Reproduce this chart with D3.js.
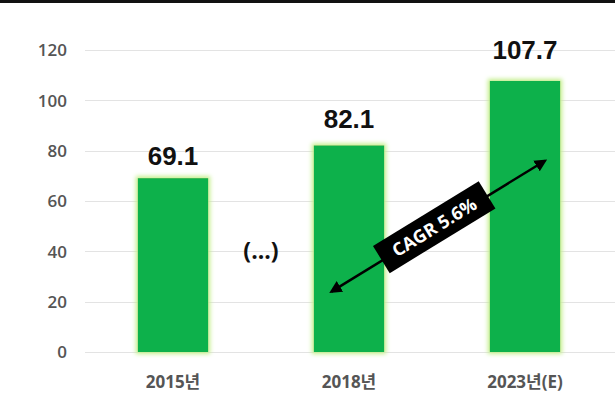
<!DOCTYPE html>
<html>
<head>
<meta charset="utf-8">
<script src="https://cdn.jsdelivr.net/npm/d3@7"></script>
<style>
  body { margin: 0; background: #fff; }
  text { font-family: "Open Sans", "Noto Sans CJK KR", sans-serif; }
</style>
</head>
<body>
<div id="chart"></div>
<script>
const width = 615, height = 410;

// data
const categories = ["2015년", "2018년", "2023년(E)"];
const values = [69.1, 82.1, 107.7];
const yTicks = [0, 20, 40, 60, 80, 100, 120];
const cagrLabel = "CAGR 5.6%";

const x = d3.scaleBand()
    .domain(categories)
    .range([85, 613])
    .paddingInner(0.6)
    .paddingOuter(0.3);

const y = d3.scaleLinear()
    .domain([0, 120])
    .range([352, 50]);

const svg = d3.select("#chart").append("svg")
    .attr("width", width)
    .attr("height", height);

const defs = svg.append("defs");
const glow = defs.append("filter").attr("id", "glow")
    .attr("x", "-20%").attr("y", "-20%").attr("width", "140%").attr("height", "140%");
glow.append("feMorphology").attr("in", "SourceAlpha").attr("operator", "dilate").attr("radius", 1.5).attr("result", "d");
glow.append("feGaussianBlur").attr("in", "d").attr("stdDeviation", 2).attr("result", "b");
glow.append("feFlood").attr("flood-color", "#c4ef8c");
glow.append("feComposite").attr("in2", "b").attr("operator", "in").attr("result", "g");
const merge = glow.append("feMerge");
merge.append("feMergeNode").attr("in", "g");
merge.append("feMergeNode").attr("in", "SourceGraphic");

defs.append("marker").attr("id", "arrow")
    .attr("viewBox", "0 0 10 10").attr("refX", 8).attr("refY", 5)
    .attr("markerWidth", 5).attr("markerHeight", 5)
    .attr("orient", "auto-start-reverse")
    .append("path").attr("d", "M0,0 L10,5 L0,10 Z").attr("fill", "#000");

// top rule
svg.append("rect").attr("x", 0).attr("y", 0).attr("width", width).attr("height", 3).attr("fill", "#111");

// grid
const grid = svg.append("g");
grid.selectAll("line").data(yTicks).enter().append("line")
    .attr("x1", 85).attr("x2", width)
    .attr("y1", d => Math.round(y(d)) + 0.5).attr("y2", d => Math.round(y(d)) + 0.5)
    .attr("stroke", "#e3e3e3").attr("stroke-width", 1);

grid.selectAll("text").data(yTicks).enter().append("text")
    .attr("x", 67).attr("y", d => y(d))
    .attr("dy", "0.38em")
    .attr("text-anchor", "end")
    .attr("font-size", 17).attr("font-weight", 600)
    .attr("fill", "#555")
    .text(d => d);

// bars
svg.append("g").selectAll("rect").data(values).enter().append("rect")
    .attr("x", (d, i) => x(categories[i]))
    .attr("y", d => y(d))
    .attr("width", x.bandwidth())
    .attr("height", d => y(0) - y(d))
    .attr("fill", "#0db14b")
    .attr("filter", "url(#glow)");

// value labels
const gap = [13, 17, 22];
svg.append("g").selectAll("text").data(values).enter().append("text")
    .attr("x", (d, i) => x(categories[i]) + x.bandwidth() / 2)
    .attr("y", (d, i) => y(d) - gap[i])
    .attr("text-anchor", "middle")
    .style("font-family", "'Liberation Sans', Arial, sans-serif")
    .attr("font-size", 26)
    .attr("font-weight", 700)
    .attr("fill", "#111")
    .text(d => d.toFixed(1));

// category labels
svg.append("g").selectAll("text").data(categories).enter().append("text")
    .attr("x", d => x(d) + x.bandwidth() / 2)
    .attr("y", 388)
    .attr("text-anchor", "middle")
    .attr("font-size", 17).attr("font-weight", 700)
    .attr("fill", "#555")
    .text(d => d);

// (...) between first two bars
const cx = i => x(categories[i]) + x.bandwidth() / 2;
svg.append("text")
    .attr("x", (cx(0) + cx(1)) / 2)
    .attr("y", y(40))
    .attr("dy", "0.35em")
    .attr("text-anchor", "middle")
    .attr("font-size", 23).attr("font-weight", 700)
    .attr("fill", "#111")
    .text("(...)");

// CAGR arrow
const x1 = x(categories[1]) + x.bandwidth() * 0.25, y1 = y(24);
const x2 = cx(2) + 20, y2 = y(76);
svg.append("line")
    .attr("x1", x1).attr("y1", y1).attr("x2", x2).attr("y2", y2)
    .attr("stroke", "#000").attr("stroke-width", 2.5)
    .attr("marker-start", "url(#arrow)").attr("marker-end", "url(#arrow)");

const ang = Math.atan2(y2 - y1, x2 - x1) * 180 / Math.PI;
const lab = svg.append("g")
    .attr("transform", `translate(${(x1 + x2) / 2 - 4},${(y1 + y2) / 2 + 1}) rotate(${ang})`);
lab.append("rect").attr("x", -62).attr("y", -16).attr("width", 124).attr("height", 32).attr("fill", "#000");
lab.append("text")
    .attr("text-anchor", "middle").attr("dy", "0.36em")
    .attr("font-size", 18).attr("font-weight", 700)
    .attr("fill", "#fff")
    .text(cagrLabel);
</script>
</body>
</html>
